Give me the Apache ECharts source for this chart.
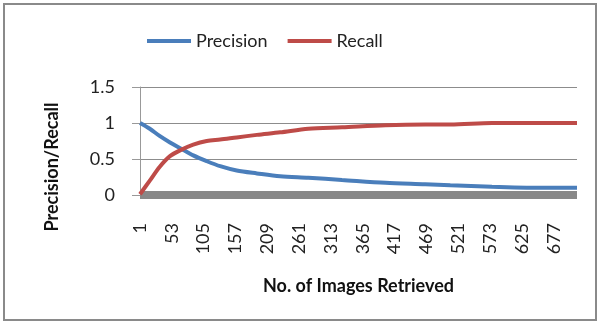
<!DOCTYPE html>
<html>
<head>
<meta charset="utf-8">
<script src="https://cdn.jsdelivr.net/npm/echarts@6/dist/echarts.min.js"></script>
<style>
  html, body { margin: 0; padding: 0; background: #fff; }
  #chart { width: 601px; height: 326px; }
</style>
</head>
<body>
<div id="chart"></div>
<script>
// images retrieved (x positions of the read points)
const retrieved = [1, 17, 33, 50, 69, 88, 110, 132, 159, 192, 230, 276, 331, 402, 467, 508, 576, 663, 715];
const precision = [1.0, 0.92, 0.82, 0.73, 0.64, 0.55, 0.47, 0.40, 0.34, 0.30, 0.26, 0.24, 0.21, 0.17, 0.15, 0.135, 0.115, 0.10, 0.10];
const recall = [0.01, 0.20, 0.39, 0.54, 0.63, 0.70, 0.75, 0.77, 0.80, 0.835, 0.87, 0.92, 0.94, 0.97, 0.98, 0.98, 1.0, 1.0, 1.0];
const xTicks = [1, 53, 105, 157, 209, 261, 313, 365, 417, 469, 521, 573, 625, 677];
const yTicks = [0, 0.5, 1, 1.5];

const font = 'Lato';
const chart = echarts.init(document.getElementById('chart'));

chart.setOption({
  animation: false,
  textStyle: { fontFamily: font },
  graphic: [{
    type: 'rect',
    shape: { x: 4, y: 4, width: 592, height: 316 },
    style: { fill: 'none', stroke: '#8a8a8a', lineWidth: 2 }
  }],
  legend: {
    data: ['Precision', 'Recall'],
    left: 142,
    top: 27,
    icon: 'rect',
    itemWidth: 44,
    itemHeight: 4,
    itemGap: 20,
    textStyle: { fontSize: 18, color: '#222', fontFamily: font }
  },
  grid: { left: 140, right: 24, top: 87, bottom: 131 },
  xAxis: {
    type: 'value',
    min: 1,
    max: 715,
    offset: 4,
    name: 'No. of Images Retrieved',
    nameLocation: 'middle',
    nameGap: 78,
    nameTextStyle: { fontSize: 18, fontWeight: 'bold', color: '#111', fontFamily: font },
    axisLine: { show: true, lineStyle: { color: '#888888', width: 8, cap: 'butt' } },
    axisTick: { show: false },
    splitLine: { show: false },
    axisLabel: {
      customValues: xTicks,
      rotate: 90,
      margin: 24,
      fontSize: 18,
      color: '#222'
    }
  },
  yAxis: {
    type: 'value',
    min: 0,
    max: 1.5,
    interval: 0.5,
    name: 'Precision/Recall',
    nameLocation: 'middle',
    nameGap: 79,
    nameTextStyle: { fontSize: 18, fontWeight: 'bold', color: '#111', fontFamily: font, padding: [0, 52, 0, 0] },
    axisLine: { show: true, lineStyle: { color: '#999999', width: 1 } },
    axisTick: { show: true, inside: false, length: 8, lineStyle: { color: '#999999' } },
    splitLine: { show: true, lineStyle: { color: '#8c8c8c', width: 1 } },
    axisLabel: {
      margin: 25,
      fontSize: 18,
      color: '#222',
      formatter: v => yTicks.includes(v) ? String(v) : ''
    }
  },
  series: [
    {
      name: 'Precision',
      type: 'line',
      data: retrieved.map((x, i) => [x, precision[i]]),
      smooth: 0.3,
      showSymbol: false,
      lineStyle: { color: '#4a7ebb', width: 4 },
      itemStyle: { color: '#4a7ebb' }
    },
    {
      name: 'Recall',
      type: 'line',
      data: retrieved.map((x, i) => [x, recall[i]]),
      smooth: 0.3,
      showSymbol: false,
      lineStyle: { color: '#be4b48', width: 4 },
      itemStyle: { color: '#be4b48' }
    }
  ]
});
</script>
</body>
</html>
